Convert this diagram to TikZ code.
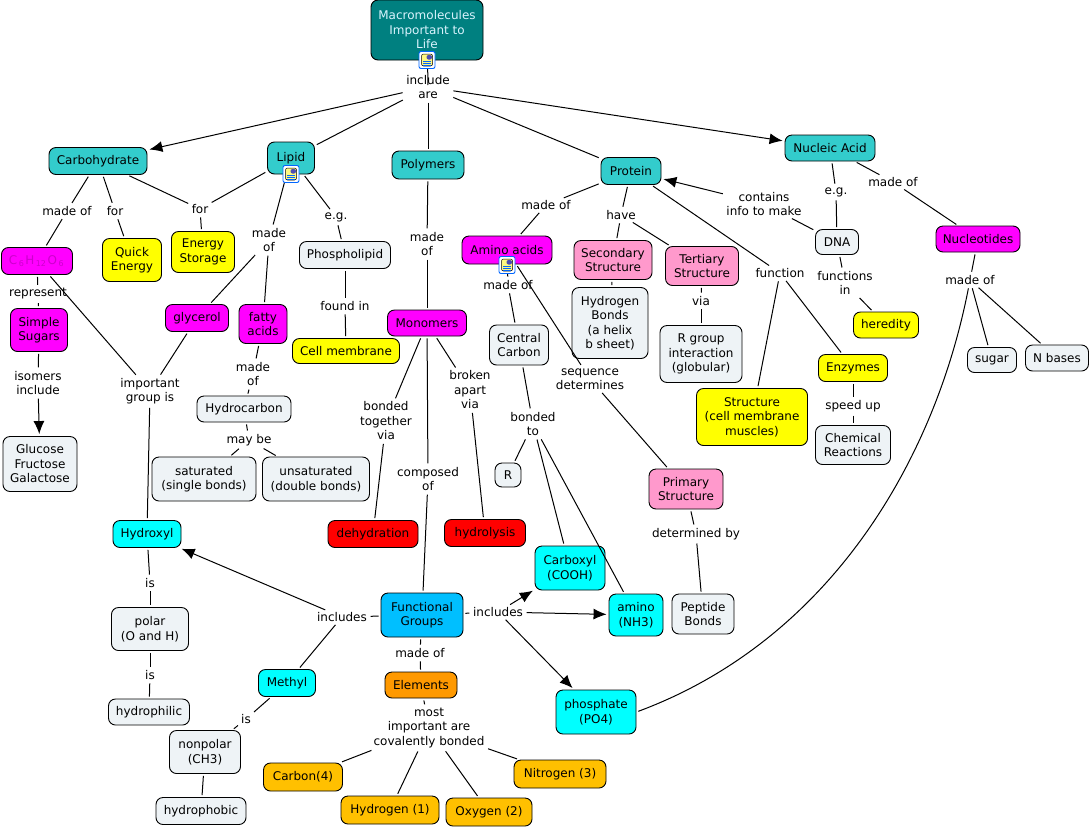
\documentclass[tikz,border=0pt]{standalone}
\usepackage{fontspec}
\setmainfont{DejaVu Sans}
\usetikzlibrary{arrows.meta}

\definecolor{rootteal}{HTML}{008080}
\definecolor{turq}{HTML}{33CCCC}
\definecolor{mag}{HTML}{FF00FF}
\definecolor{yel}{HTML}{FFFF00}
\definecolor{pale}{HTML}{EEF3F6}
\definecolor{cya}{HTML}{00FFFF}
\definecolor{sky}{HTML}{00BFFF}
\definecolor{org}{HTML}{FF9900}
\definecolor{gold}{HTML}{FFC000}
\definecolor{pnk}{HTML}{FF99CC}
\definecolor{subtext}{HTML}{CC00CC}

\newcommand{\lowsub}[1]{\hspace{1.5pt}{\fontsize{8}{8}\selectfont\raisebox{-2pt}{#1}}\hspace{1.5pt}}

\tikzset{
  concept/.style 2 args={rectangle,draw=black,line width=.9pt,rounded corners=7,align=center,
    inner sep=0pt,minimum width=#1,minimum height=#2,
    font=\fontsize{12}{14.5}\selectfont},
  linkword/.style={rectangle,align=center,inner sep=1.5pt,text=black,
    font=\fontsize{12}{14.5}\selectfont},
  noteicon/.style={rectangle,draw=blue!60!cyan,fill=white,line width=.9pt,rounded corners=2,
    minimum width=16,minimum height=17,inner sep=0pt,
    path picture={
      \fill[yellow!50,draw=black,line width=.5pt] ([shift={(2.5,2.5)}]path picture bounding box.north west) rectangle ([shift={(-2.5,-2.5)}]path picture bounding box.south east);
      \fill[gray!60!blue] ([shift={(7.5,3.5)}]path picture bounding box.north west) rectangle ([shift={(-3,8)}]path picture bounding box.north east);
      \foreach \dy in {9.5,11.5,13.5}
        \draw[line width=.5pt] ([shift={(4,\dy)}]path picture bounding box.north west) -- ([shift={(-4,\dy)}]path picture bounding box.north east);
    }},
  link/.style={line width=1pt,shorten <=2,shorten >=2},
  arrowlink/.style={link,-{Latex[length=13,width=11]}}
}

\begin{document}
\begin{tikzpicture}
  [x=1pt,y=-1pt]
  \useasboundingbox (0,0) rectangle (1091,828);
  \node[concept={112}{60},fill=rootteal,text=cyan!15] (root) at (427,30) {Macromolecules\\Important to\\Life};
  \node[linkword] (includeare) at (428,87) {include\\are};
  % Top row
  \node[concept={98}{27},fill=turq] (carb) at (98,161) {Carbohydrate};
  \node[concept={47}{32},fill=turq] (lipid) at (291,158) {Lipid};
  \node[concept={72}{28},fill=turq] (polymers) at (428,165) {Polymers};
  \node[concept={60}{27},fill=turq] (protein) at (631,171) {Protein};
  \node[concept={90}{26},fill=turq] (nucleic) at (830,148) {Nucleic Acid};
  % Carbohydrate side
  \node[linkword] (carbmade) at (67,211) {made of};
  \node[linkword] (carbfor) at (115,211) {for};
  \node[linkword] (storefor) at (200,209) {for};
  \node[concept={71}{27},fill=mag,text=subtext] (formula) at (37,261) {C\lowsub{6}H\lowsub{12}O\lowsub{6}};
  \node[concept={59}{43},fill=yel] (quick) at (132,260) {Quick\\Energy};
  \node[concept={63}{41},fill=yel] (storage) at (203,252) {Energy\\Storage};
  \node[linkword] (represent) at (38,294) {represent};
  \node[concept={57}{43},fill=mag] (simple) at (39,330) {Simple\\Sugars};
  \node[linkword] (isomers) at (38,383) {isomers\\include};
  \node[concept={74}{55},fill=pale] (glucose) at (40,464) {Glucose\\Fructose\\Galactose};
  \node[linkword] (important) at (150,391) {important\\group is};
  % Lipid side
  \node[linkword] (lipidmade) at (269,240) {made\\of};
  \node[linkword] (lipideg) at (336,217) {e.g.};
  \node[concept={91}{27},fill=pale] (phospho) at (345,255) {Phospholipid};
  \node[linkword] (foundin) at (345,306) {found in};
  \node[concept={107}{25},fill=yel] (cellmem) at (346,351) {Cell membrane};
  \node[concept={63}{27},fill=mag] (glycerol) at (197,318) {glycerol};
  \node[concept={48}{39},fill=mag] (fatty) at (263,324) {fatty\\acids};
  \node[linkword] (fattymade) at (253,374) {made\\of};
  \node[concept={94}{26},fill=pale] (hydrocarbon) at (244,409) {Hydrocarbon};
  \node[linkword] (maybe) at (249,440) {may be};
  \node[concept={104}{44},fill=pale] (saturated) at (204,479) {saturated\\(single bonds)};
  \node[concept={107}{44},fill=pale] (unsaturated) at (316,479) {unsaturated\\(double bonds)};
  % Polymers column
  \node[linkword] (polymade) at (427,244) {made\\of};
  \node[concept={79}{26},fill=mag] (monomers) at (427,323) {Monomers};
  \node[linkword] (bonded) at (386,421) {bonded\\together\\via};
  \node[linkword] (composed) at (428,479) {composed\\of};
  \node[linkword] (broken) at (470,390) {broken\\apart\\via};
  \node[concept={90}{27},fill=red] (dehydration) at (373,534) {dehydration};
  \node[concept={81}{27},fill=red] (hydrolysis) at (485,533) {hydrolysis};
  \node[concept={82}{44},fill=sky] (functional) at (422,615) {Functional\\Groups};
  % Functional groups
  \node[linkword] (incleft) at (342,617) {includes};
  \node[linkword] (incright) at (498,612) {includes};
  \node[linkword] (funcmade) at (420,653) {made of};
  \node[concept={72}{26},fill=org] (elements) at (421,685) {Elements};
  \node[linkword] (covalent) at (429,728) {most\\important are\\covalently bonded};
  \node[concept={79}{28},fill=gold] (carbon) at (303,777) {Carbon(4)};
  \node[concept={98}{28},fill=gold] (hydrogen) at (390,810) {Hydrogen (1)};
  \node[concept={86}{28},fill=gold] (oxygen) at (489,812) {Oxygen (2)};
  \node[concept={92}{28},fill=gold] (nitrogen) at (560,774) {Nitrogen (3)};
  \node[concept={68}{27},fill=cya] (hydroxyl) at (147,534) {Hydroxyl};
  \node[linkword] (hydroxis) at (150,583) {is};
  \node[concept={77}{43},fill=pale] (polar) at (150,629) {polar\\(O and H)};
  \node[linkword] (polaris) at (150,675) {is};
  \node[concept={81}{26},fill=pale] (hydrophilic) at (149,712) {hydrophilic};
  \node[concept={57}{27},fill=cya] (methyl) at (287,683) {Methyl};
  \node[linkword] (methylis) at (246,719) {is};
  \node[concept={71}{43},fill=pale] (nonpolar) at (205,752) {nonpolar\\(CH3)};
  \node[concept={90}{27},fill=pale] (hydrophobic) at (201,811) {hydrophobic};
  \node[concept={70}{44},fill=cya] (carboxyl) at (570,568) {Carboxyl\\(COOH)};
  \node[concept={54}{42},fill=cya] (amino) at (636,615) {amino\\(NH3)};
  \node[concept={80}{44},fill=cya] (phosphate) at (596,712) {phosphate\\(PO4)};
  % Protein side
  \node[linkword] (protmade) at (546,205) {made of};
  \node[concept={90}{28},fill=mag] (aminoacids) at (507,250) {Amino acids};
  \node[linkword] (aminomade) at (508,285) {made of};
  \node[concept={59}{40},fill=pale] (central) at (519,345) {Central\\Carbon};
  \node[linkword] (bondedto) at (533,424) {bonded\\to};
  \node[concept={26}{24},fill=pale] (rgroup) at (508,475) {R};
  \node[linkword] (sequence) at (590,379) {sequence\\determines};
  \node[concept={74}{40},fill=pnk] (primary) at (686,489) {Primary\\Structure};
  \node[linkword] (determined) at (696,534) {determined by};
  \node[concept={62}{40},fill=pale] (peptide) at (703,614) {Peptide\\Bonds};
  \node[linkword] (have) at (621,215) {have};
  \node[concept={78}{39},fill=pnk] (secondary) at (613,260) {Secondary\\Structure};
  \node[concept={76}{71},fill=pale] (hbonds) at (610,323) {Hydrogen\\Bonds\\(a helix\\b sheet)};
  \node[concept={73}{39},fill=pnk] (tertiary) at (702,266) {Tertiary\\Structure};
  \node[linkword] (via) at (701,301) {via};
  \node[concept={82}{57},fill=pale] (interaction) at (701,354) {R group\\interaction\\(globular)};
  \node[linkword] (function) at (780,273) {function};
  \node[concept={111}{57},fill=yel] (structure) at (752,417) {Structure\\(cell membrane\\muscles)};
  \node[concept={69}{27},fill=yel] (enzymes) at (853,368) {Enzymes};
  \node[linkword] (speedup) at (853,406) {speed up};
  \node[concept={75}{39},fill=pale] (reactions) at (853,445) {Chemical\\Reactions};
  % Nucleic acid side
  \node[linkword] (contains) at (764,204) {contains\\info to make};
  \node[linkword] (nuceg) at (836,192) {e.g.};
  \node[linkword] (nucmadeof) at (893,182) {made of};
  \node[concept={43}{25},fill=pale] (dna) at (837,242) {DNA};
  \node[linkword] (functions) at (845,283) {functions\\in};
  \node[concept={65}{26},fill=yel] (heredity) at (886,325) {heredity};
  \node[concept={84}{26},fill=mag] (nucleotides) at (978,239) {Nucleotides};
  \node[linkword] (nucmade) at (970,280) {made of};
  \node[concept={49}{25},fill=pale] (sugar) at (992,360) {sugar};
  \node[concept={63}{26},fill=pale] (nbases) at (1057,358) {N bases};

  \foreach \from/\to in {includeare/lipid,includeare/polymers,includeare/protein,
              carb/carbmade,carbmade/formula,carb/carbfor,carbfor/quick,carb/storefor,
              lipid/storefor,storefor/storage,formula/represent,represent/simple,
              simple/isomers,formula/important,glycerol/important,hydroxyl/important,
              lipid/lipidmade,lipidmade/glycerol,lipidmade/fatty,lipid/lipideg,lipideg/phospho,
              phospho/foundin,foundin/cellmem,fatty/fattymade,fattymade/hydrocarbon,
              hydrocarbon/maybe,maybe/saturated,maybe/unsaturated,
              polymers/polymade,polymade/monomers,monomers/bonded,bonded/dehydration,
              monomers/composed,composed/functional,monomers/broken,broken/hydrolysis,
              functional/incleft,incleft/methyl,functional/incright,functional/funcmade,
              funcmade/elements,elements/covalent,covalent/carbon,covalent/hydrogen,
              covalent/oxygen,covalent/nitrogen,
              hydroxyl/hydroxis,hydroxis/polar,polar/polaris,polaris/hydrophilic,
              methyl/methylis,methylis/nonpolar,nonpolar/hydrophobic,
              protein/protmade,protmade/aminoacids,aminoacids/aminomade,aminomade/central,
              central/bondedto,bondedto/rgroup,bondedto/carboxyl,bondedto/amino,
              aminoacids/sequence,sequence/primary,primary/determined,determined/peptide,
              protein/have,have/secondary,have/tertiary,secondary/hbonds,tertiary/via,via/interaction,
              protein/function,function/structure,function/enzymes,enzymes/speedup,speedup/reactions,
              dna/contains,nucleic/nuceg,nuceg/dna,nucleic/nucmadeof,nucmadeof/nucleotides,
              dna/functions,functions/heredity,nucleotides/nucmade,nucmade/sugar,nucmade/nbases}
    \draw[link] (\from) -- (\to);

  \foreach \from/\to in {includeare/carb,includeare/nucleic,isomers/glucose,incleft/hydroxyl,
              incright/carboxyl,incright/amino,incright/phosphate,contains/protein}
    \draw[arrowlink] (\from) -- (\to);

  \draw[link] (root) -- (includeare.center);
  \draw[link] (nucmade) .. controls (935,460) and (830,640) .. (phosphate.east);

  \node[noteicon] (rooticon) at (427,60) {};
  \node[noteicon] (lipidicon) at (291,174) {};
  \node[noteicon] (aminoicon) at (507,265) {};
\end{tikzpicture}
\end{document}
